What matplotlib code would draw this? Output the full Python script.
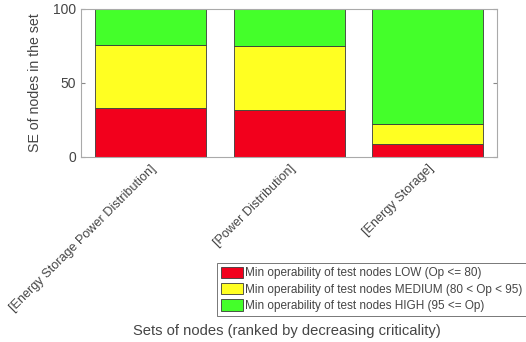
import matplotlib
matplotlib.use("Agg")
import matplotlib.pyplot as plt
import numpy as np

plt.rcParams['font.family'] = ['Liberation Sans', 'DejaVu Sans']

categories = ["[Energy Storage Power Distribution]", "[Power Distribution]", "[Energy Storage]"]
low = [33, 32, 9]
medium = [42.5, 43, 13.5]
high = [24.5, 25, 77.5]
legend_labels = [
    "Min operability of test nodes LOW (Op <= 80)",
    "Min operability of test nodes MEDIUM (80 < Op < 95)",
    "Min operability of test nodes HIGH (95 <= Op)",
]
colors = ["#F2001C", "#FFFF22", "#44FF2A"]
text_color = "#454545"

fig = plt.figure(figsize=(5.26, 3.42), dpi=100)
ax = fig.add_axes([0.154, 0.541, 0.791, 0.433])

x = np.arange(1, len(categories) + 1)
bottom = np.zeros(len(categories))
handles = []
for vals, col, lab in zip([low, medium, high], colors, legend_labels):
    h = ax.bar(x, vals, width=0.8, bottom=bottom, color=col,
               edgecolor="#3a3a3a", linewidth=0.6, label=lab)
    handles.append(h)
    bottom += np.array(vals)

ax.set_xlim(0.5, 3.5)
ax.set_ylim(0, 100)
ax.set_yticks([0, 50, 100])
ax.set_xticks(x)
ax.set_xticklabels(categories, rotation=45, ha="right", rotation_mode="anchor",
                   color=text_color)
ax.tick_params(axis="both", direction="in", length=3, color="#888888",
               labelsize=10, labelcolor=text_color, top=False, right=True)
ax.tick_params(axis="x", length=0, pad=4, labelsize=9.1)
for s in ax.spines.values():
    s.set_color("#aaaaaa")
    s.set_linewidth(0.8)
ax.set_ylabel("SE of nodes in the set", fontsize=10.2, color=text_color, labelpad=8)

fig.text(0.546, 1 - 331 / 342, "Sets of nodes (ranked by decreasing criticality)",
         ha="center", va="center", fontsize=10.6, color=text_color)

leg = fig.legend(handles=handles, loc="upper left",
                 bbox_to_anchor=(217 / 526, 1 - 263 / 342),
                 fontsize=8.5, frameon=True, fancybox=False,
                 edgecolor="#555555", handlelength=1.9, handleheight=1.1,
                 handletextpad=0.15, borderpad=0.3, labelspacing=0.32,
                 borderaxespad=0)
leg.get_frame().set_linewidth(0.7)
for t in leg.get_texts():
    t.set_color(text_color)

fig.savefig("out.png", dpi=100)
